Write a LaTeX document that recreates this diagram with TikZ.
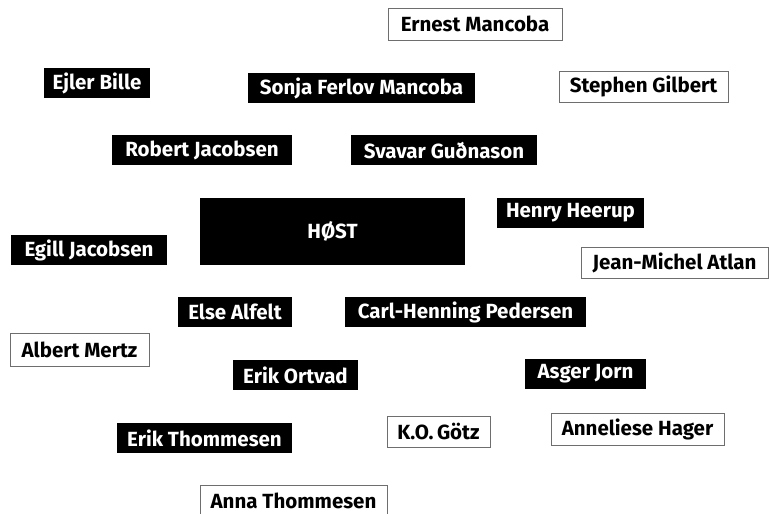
\documentclass[tikz,border=0pt]{standalone}
\usepackage{fontspec}
\setmainfont{Fira Sans}
\usepackage{xcolor}
\definecolor{ink}{HTML}{000000}
\definecolor{rulegray}{HTML}{6E6E6E}

\begin{document}
\begin{tikzpicture}[x=1pt,y=-1pt,
      namebox/.style={rectangle,inner sep=0pt,minimum height=30pt,
                      font=\fontsize{20.5}{20.5}\selectfont\bfseries},
      corebox/.style={namebox,fill=ink,text=white},
      guestbox/.style={namebox,fill=white,draw=rulegray,line width=0.8pt,text=ink},
      hostbox/.style={corebox,minimum width=265pt,minimum height=67pt}
    ]
    \useasboundingbox (0,0) rectangle (769,514);

    % centre
    \node[hostbox] (host) at (332.5,231.5) {HØST};

    % top rows
    \node[guestbox,minimum width=174pt,minimum height=32pt] (mancoba)  at (475,24)    {Ernest Mancoba};
    \node[corebox,minimum width=106pt]                      (bille)    at (97,83)     {Ejler Bille};
    \node[corebox,minimum width=227pt]                      (ferlov)   at (361.5,88)  {Sonja Ferlov Mancoba};
    \node[guestbox,minimum width=169pt,minimum height=31pt] (gilbert)  at (643.5,86.5){Stephen Gilbert};
    \node[corebox,minimum width=180pt]                      (robert)   at (202,150)   {Robert Jacobsen};
    \node[corebox,minimum width=186pt]                      (svavar)   at (444,150)   {Svavar Guðnason};

    % middle rows
    \node[corebox,minimum width=147pt]                      (heerup)   at (570.5,213) {Henry Heerup};
    \node[corebox,minimum width=156pt]                      (egill)    at (89,250)    {Egill Jacobsen};
    \node[guestbox,minimum width=187pt,minimum height=31pt] (atlan)    at (674.5,262.5){Jean-Michel Atlan};
    \node[corebox,minimum width=114pt]                      (alfelt)   at (235,312)   {Else Alfelt};
    \node[corebox,minimum width=241pt]                      (pedersen) at (465.5,312) {Carl-Henning Pedersen};
    \node[guestbox,minimum width=139pt,minimum height=33pt] (mertz)    at (79.5,349.5){Albert Mertz};

    % bottom rows
    \node[corebox,minimum width=125pt]                      (ortvad)   at (295.5,375) {Erik Ortvad};
    \node[corebox,minimum width=121pt]                      (jorn)     at (585.5,374) {Asger Jorn};
    \node[guestbox,minimum width=103pt,minimum height=31pt] (goetz)    at (438.5,431.5){K.O.\,Götz};
    \node[guestbox,minimum width=173pt,minimum height=32pt] (hager)    at (637.5,429) {Anneliese Hager};
    \node[corebox,minimum width=175pt]                      (erik)     at (204.5,438) {Erik Thommesen};
    \node[guestbox,minimum width=187pt,minimum height=31pt] (anna)     at (293.5,500.5){Anna Thommesen};

  \end{tikzpicture}
\end{document}
